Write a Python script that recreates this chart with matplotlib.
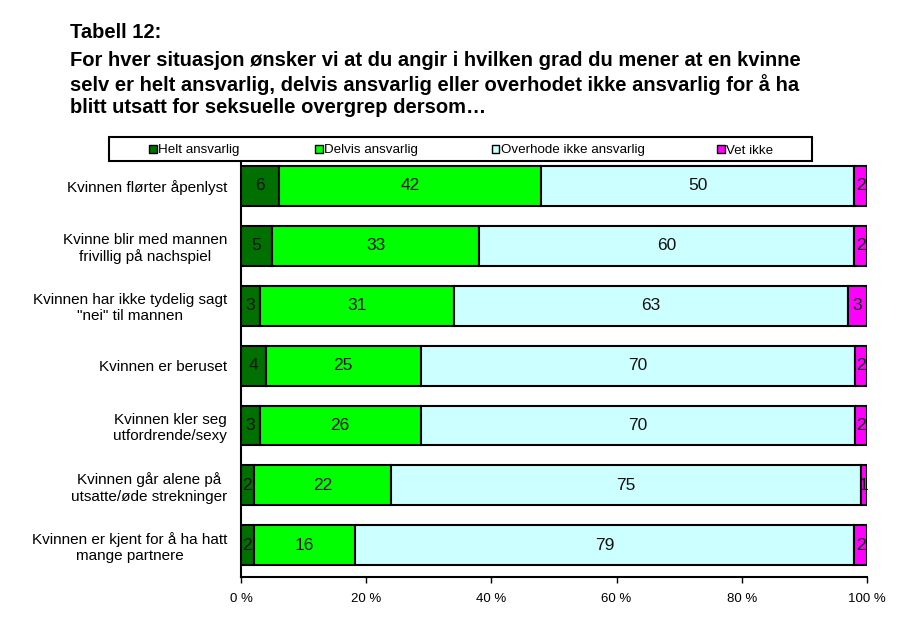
import numpy as np
import matplotlib
matplotlib.use("Agg")
import matplotlib.pyplot as plt
from matplotlib.patches import Rectangle

plt.rcParams['font.family'] = ['Liberation Sans', 'DejaVu Sans']

# situations, top to bottom
categories = [
    "Kvinnen flørter åpenlyst",
    "Kvinne blir med mannen\nfrivillig på nachspiel",
    "Kvinnen har ikke tydelig sagt\n\"nei\" til mannen",
    "Kvinnen er beruset",
    "Kvinnen kler seg\nutfordrende/sexy",
    "Kvinnen går alene på\nutsatte/øde strekninger",
    "Kvinnen er kjent for å ha hatt\nmange partnere",
]
series_names = ["Helt ansvarlig", "Delvis ansvarlig", "Overhode ikke ansvarlig", "Vet ikke"]
helt = [6, 5, 3, 4, 3, 2, 2]
delvis = [42, 33, 31, 25, 26, 22, 16]
overhode = [50, 60, 63, 70, 70, 75, 79]
vet_ikke = [2, 2, 3, 2, 2, 1, 2]
xtick_labels = ["0 %", "20 %", "40 %", "60 %", "80 %", "100 %"]

colors = ["#007000", "#00ff00", "#ccffff", "#ff00ff"]

values = np.array([helt, delvis, overhode, vet_ikke], dtype=float)
shares = values / values.sum(axis=0) * 100  # stacked to 100 %

W, H = 900, 617
fig = plt.figure(figsize=(9, 6.17), dpi=100)
ax = fig.add_axes([241 / W, 1 - 577 / H, 626 / W, 421 / H])

y = np.arange(len(categories))
left = np.zeros(len(categories))
for i in range(4):
    ax.barh(y, shares[i], left=left, height=0.667, color=colors[i],
            edgecolor="black", linewidth=1.5)
    for j in range(len(categories)):
        ax.text(left[j] + shares[i][j] / 2, y[j], str(int(values[i][j])),
                ha="center", va="center", fontsize=12.5, color="#111111")
    left += shares[i]

ax.set_xlim(0, 100)
ax.set_ylim(len(categories) - 0.47, -0.5)
ax.set_yticks(y)
ax.set_yticklabels(categories, fontsize=11, multialignment="center")
ax.tick_params(axis="y", length=0, pad=10)
ax.set_xticks([0, 20, 40, 60, 80, 100])
ax.set_xticklabels(xtick_labels, fontsize=9.5)
ax.tick_params(axis="x", direction="out", length=4.3, width=1, pad=7.5)
for s in ["top", "right"]:
    ax.spines[s].set_visible(False)
ax.spines["left"].set_linewidth(1.5)
ax.spines["bottom"].set_linewidth(1.5)

# legend box drawn by hand to match the original spacing
fig.patches.append(Rectangle((109 / W, 1 - 161 / H), 703 / W, 24 / H,
                             transform=fig.transFigure, facecolor="white",
                             edgecolor="black", linewidth=1.5, zorder=5))
marker_x = [149, 315, 492, 717]
for name, c, mx in zip(series_names, colors, marker_x):
    fig.patches.append(Rectangle((mx / W, 1 - 153 / H), 7.5 / W, 7.5 / H,
                                 transform=fig.transFigure, facecolor=c,
                                 edgecolor="black", linewidth=1, zorder=6))
    fig.text((mx + 9) / W, 1 - 149 / H, name, fontsize=9.6, va="center_baseline", zorder=7)

fig.text(70 / W, 1 - 32 / H, "Tabell 12:", fontsize=14.5, fontweight="bold", va="center")
fig.text(70 / W, 1 - 84 / H,
         "For hver situasjon ønsker vi at du angir i hvilken grad du mener at en kvinne\n"
         "selv er helt ansvarlig, delvis ansvarlig eller overhodet ikke ansvarlig for å ha\n"
         "blitt utsatt for seksuelle overgrep dersom…",
         fontsize=14.5, fontweight="bold", va="center", linespacing=1.2)

fig.savefig("out.png", dpi=100)
